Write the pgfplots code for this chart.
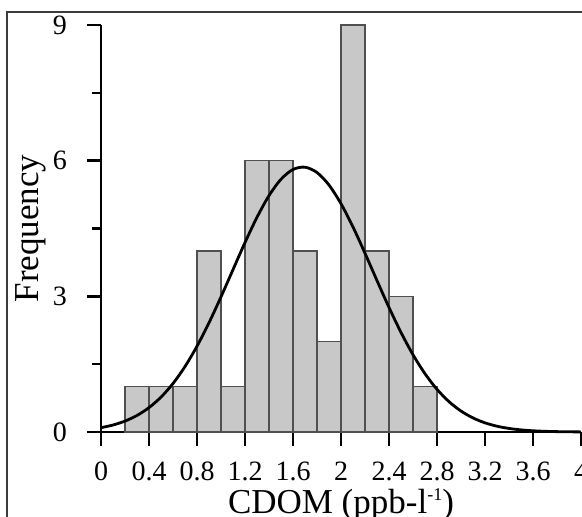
\documentclass[border=0pt]{standalone}
\usepackage{pgfplots}
\pgfplotsset{compat=1.18}
\usepackage{fontspec}
\setmainfont{Liberation Serif}
\definecolor{barfill}{RGB}{200,200,200}
\definecolor{baredge}{RGB}{80,80,80}
\definecolor{framec}{RGB}{60,60,60}
\begin{document}
\begin{tikzpicture}
\begin{axis}[
  at={(0,0)}, anchor=origin,
  x=60pt, y=22.61pt,
  xmin=0, xmax=4, ymin=0, ymax=9,
  axis x line=bottom, axis y line=left,
  axis line style={line width=1.3pt, -},
  xtick={0,0.4,0.8,1.2,1.6,2,2.4,2.8,3.2,3.6,4},
  xticklabels={0,0.4,0.8,1.2,1.6,2,2.4,2.8,3.2,3.6,4},
  ytick={0,3,6,9},
  yticklabels={0,3,6,9},
  minor ytick={1.5,4.5,7.5},
  tick align=outside,
  major tick length=7pt,
  minor tick length=4.5pt,
  tick style={line width=1.3pt, black},
  minor tick style={line width=1.3pt, black},
  /pgf/number format/assume math mode=true,
  ticklabel style={font=\fontsize{14}{16}\selectfont},
  xticklabel style={anchor=north, yshift=-4.5pt},
  yticklabel style={anchor=east, xshift=-6.5pt},
  ylabel={Frequency},
  label style={font=\fontsize{17.5}{19}\selectfont},
  ylabel style={at={(axis description cs:-0.131,0.5)}, anchor=base},
  clip=false,
]
\addplot[ybar interval, fill=barfill, draw=baredge, line width=0.7pt] coordinates {
(0.2,1) (0.4,1) (0.6,1) (0.8,4) (1.0,1) (1.2,6) (1.4,6) (1.6,4) (1.8,2) (2.0,9) (2.2,4) (2.4,3) (2.6,1) (2.8,1)};
\addplot[black, line width=1.4pt, smooth, no marks] coordinates {
(0,0.0962) (0.1,0.1546) (0.2,0.2414) (0.3,0.3661) (0.4,0.5393) (0.5,0.7716)
(0.6,1.0723) (0.7,1.4475) (0.8,1.8978) (0.9,2.4164) (1.0,2.9888) (1.1,3.5908)
(1.2,4.1899) (1.3,4.7487) (1.4,5.2277) (1.5,5.5899) (1.6,5.8056) (1.7,5.8566)
(1.8,5.7384) (1.9,5.4612) (2.0,5.0483) (2.1,4.5327) (2.2,3.9529) (2.3,3.3482)
(2.4,2.7547) (2.5,2.2015) (2.6,1.7088) (2.7,1.2883) (2.8,0.9435) (2.9,0.6711)
(3.0,0.4636) (3.1,0.3110) (3.2,0.2027) (3.3,0.1283) (3.4,0.0789) (3.5,0.0471)
(3.6,0.0273) (3.7,0.0154) (3.8,0.0084) (3.9,0.0045) (4.0,0.0023)};
\node[anchor=base, font=\fontsize{17.5}{19}\selectfont, inner sep=0pt] at (axis description cs:0.5,0) [yshift=-40.5pt] {CDOM (ppb-l\raisebox{0.8ex}{\fontsize{9}{9}\selectfont -1})};
\end{axis}
\draw[line width=1pt, framec] (-47pt,-60pt) -- (-47pt,210pt) -- (260pt,210pt);
\pgfresetboundingbox
\useasboundingbox (-50.5pt,-42pt) rectangle (240.5pt,216pt);
\end{tikzpicture}
\end{document}
